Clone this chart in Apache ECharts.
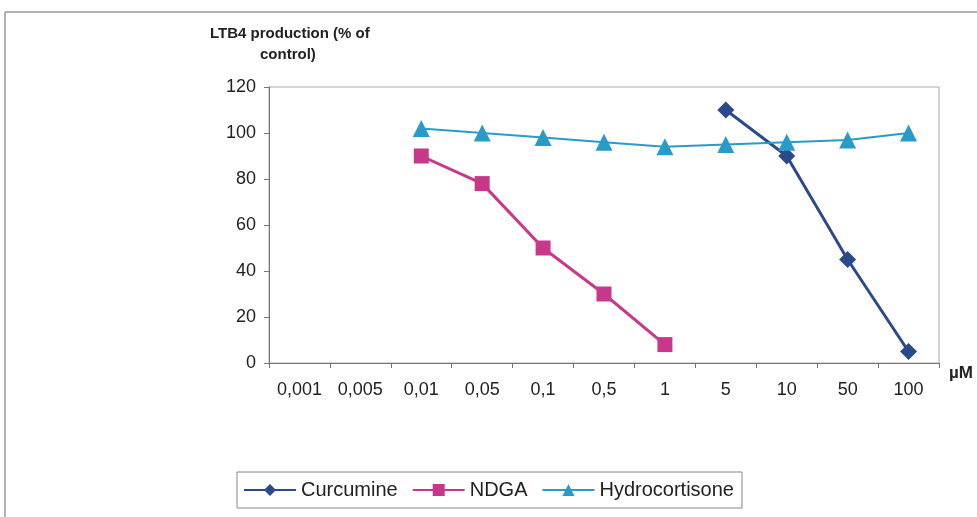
<!DOCTYPE html>
<html><head><meta charset="utf-8">
<script src="https://cdn.jsdelivr.net/npm/echarts@6/dist/echarts.min.js"></script>
<style>html,body{margin:0;padding:0;background:#fff}#c{width:977px;height:517px}</style>
</head><body><div id="c"></div>
<script>
const categories = ['0,001','0,005','0,01','0,05','0,1','0,5','1','5','10','50','100'];
const curcumine = [null,null,null,null,null,null,null,110,90,45,5];
const ndga = [null,null,90,78,50,30,8,null,null,null,null];
const hydrocortisone = [null,null,102,100,98,96,94,95,96,97,100];
const yTicks = {min:0, max:120, interval:20};

const chart = echarts.init(document.getElementById('c'));
const font = '"Liberation Sans", Arial, sans-serif';
chart.setOption({
  animation:false,
  backgroundColor:'#fff',
  graphic:[
    {type:'line', shape:{x1:5,y1:12,x2:977,y2:12}, style:{stroke:'#999',lineWidth:1.5}},
    {type:'line', shape:{x1:5,y1:12,x2:5,y2:517}, style:{stroke:'#999',lineWidth:1.5}},
    {type:'text', left:210, top:26, style:{text:'LTB4 production (% of', font:'bold 15px "Liberation Sans", Arial', fill:'#222'}},
    {type:'text', left:260, top:47, style:{text:'control)', font:'bold 15px "Liberation Sans", Arial', fill:'#222'}},
    {type:'text', left:949, top:365, style:{text:'µM', font:'bold 17px "Liberation Sans", Arial', fill:'#222'}}
  ],
  grid:{left:269, right:38, top:87, bottom:154, show:true, borderColor:'#aaa', borderWidth:1},
  legend:{
    left:237, top:472, width:505, height:38,
    itemWidth:52, itemHeight:15, itemGap:14,
    padding:[8,8,8,6],
    borderColor:'#888', borderWidth:1,
    textStyle:{fontFamily:font, fontSize:20, color:'#222'},
    data:['Curcumine','NDGA','Hydrocortisone']
  },
  xAxis:{
    type:'category', data:categories, boundaryGap:true,
    axisLine:{lineStyle:{color:'#777', width:1}},
    axisTick:{show:true, inside:false, length:5, lineStyle:{color:'#777'}},
    axisLabel:{fontFamily:font, fontSize:18, color:'#222', margin:18, interval:0}
  },
  yAxis:{
    type:'value', min:yTicks.min, max:yTicks.max, interval:yTicks.interval,
    axisLine:{show:true, lineStyle:{color:'#777'}},
    axisTick:{show:true, length:5, lineStyle:{color:'#777'}},
    splitLine:{show:false},
    axisLabel:{fontFamily:font, fontSize:18, color:'#222', margin:13}
  },
  series:[
    {name:'Curcumine', type:'line', data:curcumine, symbol:'diamond', symbolSize:17,
     lineStyle:{color:'#2B4A8C', width:3}, itemStyle:{color:'#2B4A8C'}, connectNulls:false},
    {name:'NDGA', type:'line', data:ndga, symbol:'rect', symbolSize:15,
     lineStyle:{color:'#C8388A', width:3}, itemStyle:{color:'#C8388A'}},
    {name:'Hydrocortisone', type:'line', data:hydrocortisone, symbol:'triangle', symbolSize:17,
     lineStyle:{color:'#2A9BC8', width:2}, itemStyle:{color:'#2A9BC8'}}
  ]
});
</script></body></html>
